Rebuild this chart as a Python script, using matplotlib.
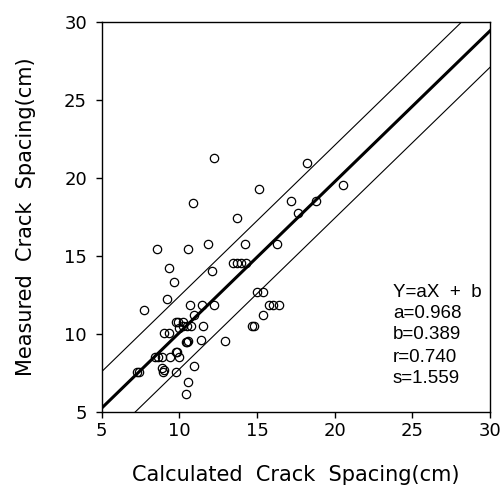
"""Measured vs calculated crack spacing with regression line and bounds."""
import matplotlib
matplotlib.use("Agg")
import matplotlib.pyplot as plt
import numpy as np

# regression results shown on the chart
SLOPE = 0.968
INTERCEPT = 0.389
R_VALUE = 0.740
STD_ERR = 1.559
BAND = 1.5 * STD_ERR

calculated = [
    12.25, 10.86, 13.69, 8.54, 10.54, 11.83, 9.35, 12.08, 13.47, 13.69,
    9.67, 9.19, 7.74, 10.67, 11.44, 12.25, 10.92, 9.76, 9.93, 10.22,
    10.00, 10.25, 10.51, 10.73, 11.54, 9.01, 9.33, 10.45, 10.50, 10.55,
    11.39, 12.96, 9.78, 9.87, 8.43, 8.64, 8.86, 9.40, 9.98, 8.86,
    9.01, 8.93, 7.25, 7.42, 9.78, 10.94, 10.54, 10.43, 18.20, 15.15,
    20.52, 17.19, 18.80, 17.62, 14.23, 16.27, 13.94, 14.29, 14.98, 15.37,
    15.79, 16.05, 16.42, 15.37, 14.68, 14.78,
]
measured = [
    21.29, 18.41, 17.44, 15.42, 15.44, 15.74, 14.22, 14.04, 14.56, 14.56,
    13.34, 12.21, 11.52, 11.84, 11.84, 11.84, 11.22, 10.77, 10.77, 10.77,
    10.35, 10.50, 10.50, 10.50, 10.50, 10.03, 10.03, 9.49, 9.49, 9.55,
    9.60, 9.55, 8.85, 8.85, 8.53, 8.53, 8.53, 8.53, 8.53, 7.78,
    7.67, 7.57, 7.53, 7.53, 7.53, 7.93, 6.92, 6.12, 20.93, 19.30,
    19.54, 18.53, 18.53, 17.76, 15.78, 15.74, 14.56, 14.56, 12.66, 12.66,
    11.84, 11.84, 11.84, 11.22, 10.52, 10.52,
]

stats_lines = [
    "Y=aX  +  b",
    f"a={SLOPE:.3f}",
    f"b={INTERCEPT:.3f}",
    f"r={R_VALUE:.3f}",
    f"s={STD_ERR:.3f}",
]

ticks = [5, 10, 15, 20, 25, 30]

fig = plt.figure(figsize=(5.02, 4.88), dpi=100)
ax = fig.add_axes([0.2026, 0.1564, 0.7735, 0.7986])

xs = np.array([5.0, 30.0])
fit = SLOPE * xs + INTERCEPT
ax.plot(xs, fit, color="black", linewidth=2.2)
ax.plot(xs, fit + BAND, color="black", linewidth=0.8)
ax.plot(xs, fit - BAND, color="black", linewidth=0.8)

ax.plot(calculated, measured, linestyle="none", marker="o", markersize=6,
        markerfacecolor="none", markeredgecolor="black", markeredgewidth=0.9)

ax.set_xlim(5, 30)
ax.set_ylim(5, 30)
ax.set_xticks(ticks)
ax.set_yticks(ticks)
ax.tick_params(direction="out", length=4.5, width=1.0, labelsize=13,
               colors="black")
ax.tick_params(axis="x", pad=3)
ax.tick_params(axis="y", pad=6)
for spine in ax.spines.values():
    spine.set_linewidth(1.0)

ax.set_xlabel("Calculated  Crack  Spacing(cm)", fontsize=15, labelpad=18)
ax.set_ylabel("Measured  Crack  Spacing(cm)", fontsize=15, labelpad=20)

line_y = [0.307, 0.253, 0.197, 0.140, 0.084]
for text, y in zip(stats_lines, line_y):
    ax.text(0.750, y, text, transform=ax.transAxes, fontsize=13.5,
            family="Liberation Sans", va="center", ha="left")

fig.savefig("out.png", dpi=100)
